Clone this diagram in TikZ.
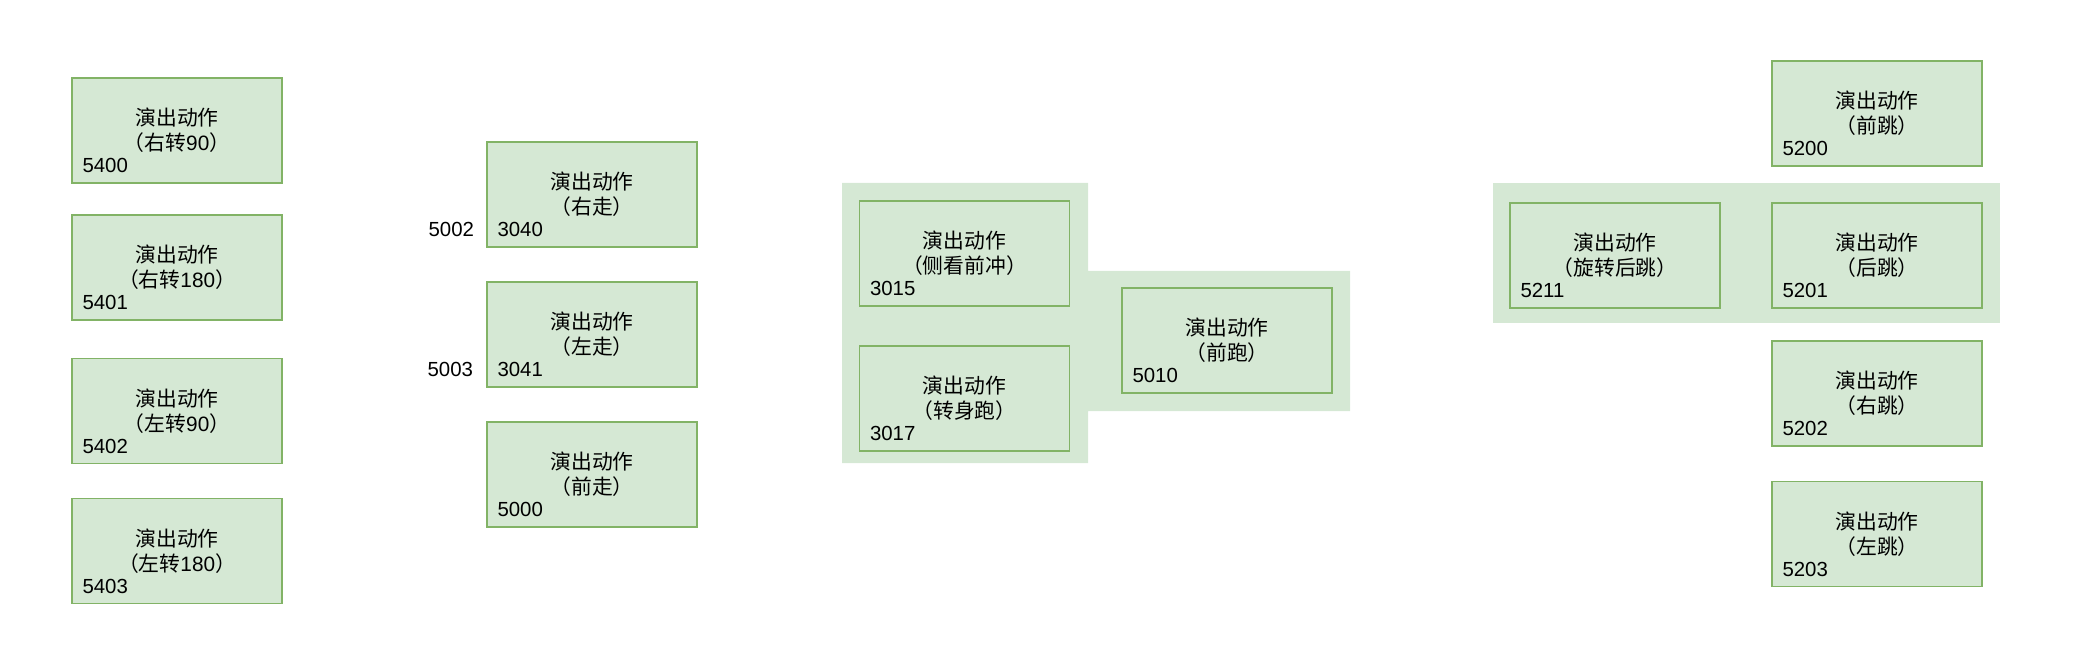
\documentclass[tikz,border=0pt]{standalone}
\usepackage{fontspec}
\setmainfont{Liberation Sans}
\newfontfamily\cjk{Noto Sans CJK SC}
\usetikzlibrary{calc}
\newcommand{\zh}[1]{{\cjk #1}}
\definecolor{boxfill}{HTML}{D5E8D4}
\definecolor{boxline}{HTML}{82B366}
\tikzset{
  actbox/.style={draw=boxline, fill=boxfill, line width=1.1pt,
    minimum width=157.5pt, minimum height=78.75pt, align=center,
    font=\fontsize{15.6}{18.75}\selectfont, inner sep=0pt},
  numlabel/.style={font=\fontsize{15.3}{18}\selectfont, anchor=base west, inner sep=0pt},
  sidelabel/.style={font=\fontsize{15.3}{18}\selectfont, anchor=base east, inner sep=0pt},
  groupbg/.style={fill=boxfill, draw=none}
}
\newcommand{\act}[4]{%
  \node[actbox] (b#1) at (#2,#3) {\zh{演出动作}\\#4};
  \node[numlabel] (n#1) at ($(b#1.south west)+(11,-11)$) {#1};
}
\begin{document}
\begin{tikzpicture}[x=0.75pt, y=-0.75pt]
\useasboundingbox (0,0) rectangle (2079,648);
% group backgrounds
\fill[groupbg] (842,183) -- (1088,183) -- (1088,271) -- (1350,271) -- (1350,411)
  -- (1088,411) -- (1088,463) -- (842,463) -- cycle;
\fill[groupbg] (1493,183) rectangle (2000,323);
% column 1
\act{5400}{177}{130.5}{\zh{（右转}90\zh{）}}
\act{5401}{177}{267.5}{\zh{（右转}180\zh{）}}
\act{5402}{177}{411}{\zh{（左转}90\zh{）}}
\act{5403}{177}{551}{\zh{（左转}180\zh{）}}
% column 2
\act{3040}{592}{194.5}{\zh{（右走）}}
\act{3041}{592}{334.5}{\zh{（左走）}}
\act{5000}{592}{474.5}{\zh{（前走）}}
\node[sidelabel] (s5002) at ($(b3040.south west)+(-12,-11)$) {5002};
\node[sidelabel] (s5003) at ($(b3041.south west)+(-13,-11)$) {5003};
% column 3
\act{3015}{964.5}{253.5}{\zh{（侧看前冲）}}
\act{3017}{964.5}{398.5}{\zh{（转身跑）}}
\act{5010}{1227}{340.5}{\zh{（前跑）}}
% column 4
\act{5200}{1877}{113.5}{\zh{（前跳）}}
\act{5211}{1615}{255.5}{\zh{（旋转后跳）}}
\act{5201}{1877}{255.5}{\zh{（后跳）}}
\act{5202}{1877}{393.5}{\zh{（右跳）}}
\act{5203}{1877}{534}{\zh{（左跳）}}
\end{tikzpicture}
\end{document}
